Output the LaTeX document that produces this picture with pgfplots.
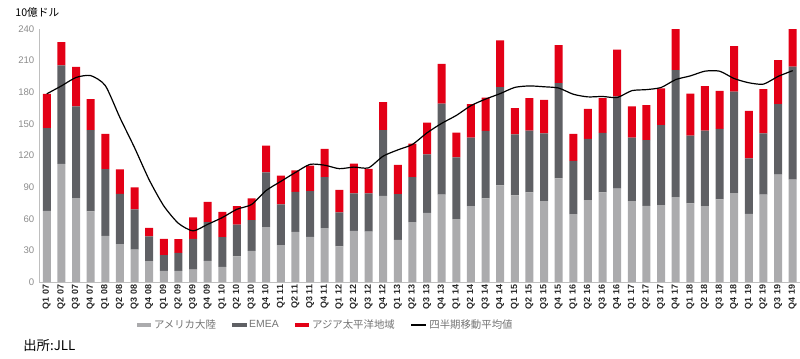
\documentclass[border=0pt]{standalone}
\usepackage{pgfplots}
\pgfplotsset{compat=1.18}
\usepackage{pgfplotstable}
\usepackage{fontspec}
\setmainfont{Liberation Sans}
\newfontfamily\jp{Noto Sans CJK JP}
\definecolor{cAm}{HTML}{ABABAD}
\definecolor{cEm}{HTML}{5F6064}
\definecolor{cAp}{HTML}{E30016}
\pgfplotstableread{
x am emea ap avg
0 67.5 78.5 32.5 178.5
1 112 93.5 22.1 186
2 79.6 86.9 37.5 194
3 67 77 29.4 195.8
4 43.8 63.2 33.5 186.4
5 36 47.7 23.1 156
6 30.8 38 20.9 127.5
7 19.7 23.7 8 97
8 10.5 14.9 15.5 72.2
9 10.5 17.1 13 55.7
10 11.7 29.2 20.3 48.5
11 20 36.8 19.3 54.7
12 14.3 28.2 24.1 61.1
13 24.4 30.1 17.5 69
14 29.5 29.2 20.6 73.5
15 52 52 25.4 86.8
16 35 38.7 27.1 95.4
17 47.6 38 20.3 103.9
18 42.8 43.4 24.1 111.6
19 51 48.6 26.6 110.8
20 33.9 32.1 21.5 107.5
21 48.5 35.5 28.2 109
22 47.9 36.1 23.2 108.3
23 81.8 62.2 26.6 119.4
24 40 43.4 27.6 125.3
25 56.8 42.8 31.7 130.5
26 65.6 55.4 30.2 141.5
27 82.8 86.5 37.7 150.5
28 59.6 58.7 23.4 158
29 72 65 31.7 167.3
30 79.3 64 31.7 173.5
31 91.6 93.2 44.4 178.7
32 82.1 57.9 24.9 184.6
33 85 58.6 30.8 186
34 76.7 64.4 31.7 185.2
35 98.3 90.3 36.2 184
36 64.4 50.4 25.7 178.1
37 77.7 58 28.5 175.6
38 85 56.4 33 176
39 88.5 87.5 44.4 175
40 76.7 60.3 29.5 181.5
41 72.3 62.4 33 182.5
42 72.9 75.8 34.9 184.5
43 80.5 120.5 39 192
44 74.5 64.4 39.9 195.5
45 72 71.6 42.2 200
46 78.3 66.9 36.2 200
47 84.3 96.4 43.1 193
48 64.7 52.6 45 189
49 82.8 58.3 41.8 187.7
50 101.8 66.9 41.8 195
51 97 107.2 35.8 200.5
}\data
\begin{document}
\begin{tikzpicture}
\useasboundingbox (0,0) rectangle (600pt,268.5pt);
\pgfplotsset{common/.style={
  at={(29.25pt,57pt)}, anchor=south west,
  scale only axis, width=570.75pt, height=189.75pt,
  xmin=-0.53, xmax=51.5, ymin=0, ymax=240}}
\begin{axis}[common,
  ybar stacked, bar width=6pt,
  ytick={0,30,...,240},
  xtick={0,...,51},
  xticklabels={Q1 07,Q2 07,Q3 07,Q4 07,Q1 08,Q2 08,Q3 08,Q4 08,Q1 09,Q2 09,Q3 09,Q4 09,Q1 10,Q2 10,Q3 10,Q4 10,Q1 11,Q2 11,Q3 11,Q4 11,Q1 12,Q2 12,Q3 12,Q4 12,Q1 13,Q2 13,Q3 13,Q4 13,Q1 14,Q2 14,Q3 14,Q4 14,Q1 15,Q2 15,Q3 15,Q4 15,Q1 16,Q2 16,Q3 16,Q4 16,Q1 17,Q2 17,Q3 17,Q4 17,Q1 18,Q2 18,Q3 18,Q4 18,Q1 19,Q2 19,Q3 19,Q4 19},
  /pgf/number format/assume math mode=true,
  x tick label style={rotate=90, anchor=east, font=\bfseries\fontsize{6.7}{7}\selectfont, text=black!85, inner xsep=2pt},
  y tick label style={font=\fontsize{7.2}{8}\selectfont, text=black!45},
  axis x line*=bottom, axis y line*=left,
  axis line style={black!25},
  major tick length=0pt,
  legend style={at={(0.128,-0.17)}, anchor=west, draw=none, fill=none,
    legend columns=-1, font=\jp\fontsize{7.8}{8}\selectfont, text=black!55,
    /tikz/every even column/.append style={column sep=10pt},
    inner xsep=0pt},
]
\addplot[fill=cAm, draw=none, legend image code/.code={\fill[cAm] (0pt,-1.5pt) rectangle (11pt,1.5pt);}] table[x=x,y=am]{\data};
\addlegendentry{アメリカ大陸}
\addplot[fill=cEm, draw=none, legend image code/.code={\fill[cEm] (0pt,-1.5pt) rectangle (11pt,1.5pt);}] table[x=x,y=emea]{\data};
\addlegendentry{\fontspec{Liberation Sans}EMEA}
\addplot[fill=cAp, draw=none, legend image code/.code={\fill[cAp] (0pt,-1.5pt) rectangle (11pt,1.5pt);}] table[x=x,y=ap]{\data};
\addlegendentry{アジア太平洋地域}
\addlegendimage{legend image code/.code={\draw[black, line width=0.9pt] (0pt,0pt) -- (11pt,0pt);}}
\addlegendentry{四半期移動平均値}
\end{axis}
\begin{axis}[common, axis lines=none]
\addplot[black, line width=0.9pt, smooth, tension=0.4, mark=none] table[x=x,y=avg]{\data};
\end{axis}
\node[anchor=west, font=\jp\fontsize{8}{9}\selectfont, text=black] at (8pt,259.5pt) {10億ドル};
\node[anchor=west, font=\jp\fontsize{10}{11}\selectfont, text=black] at (14pt,9.75pt) {出所:JLL};
\end{tikzpicture}
\end{document}
